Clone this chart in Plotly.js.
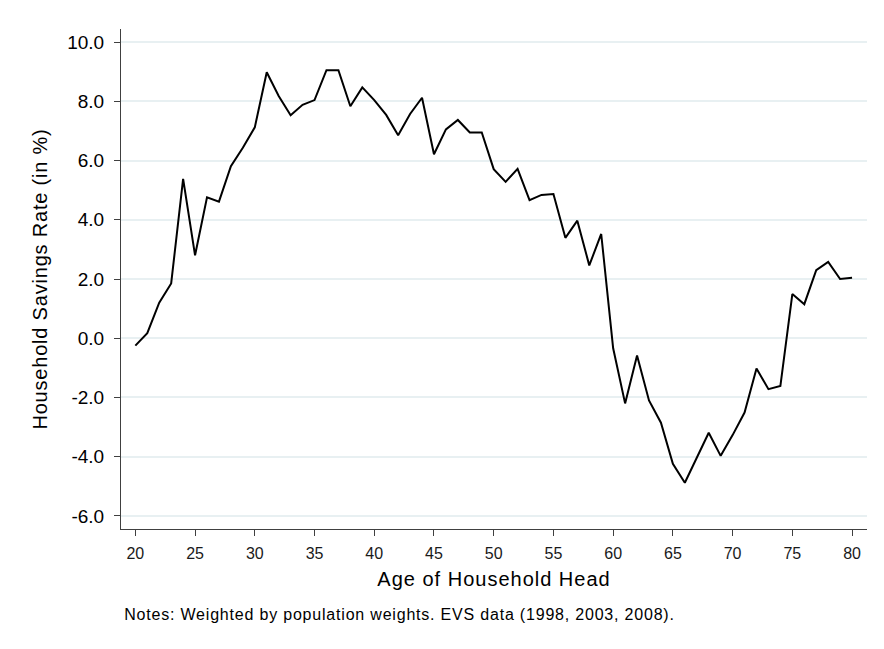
<!DOCTYPE html>
<html>
<head>
<meta charset="utf-8">
<script src="https://cdn.plot.ly/plotly-3.0.1.min.js"></script>
<style>
html,body{margin:0;padding:0;background:#fff;}
#chart{width:884px;height:649px;}
#chart .xtitle{letter-spacing:1px;}
#chart .ytitle{letter-spacing:0.8px;}
#chart .annotation-text{letter-spacing:0.8px;}
</style>
</head>
<body>
<div id="chart"></div>
<script>
const ages = [20,21,22,23,24,25,26,27,28,29,30,31,32,33,34,35,36,37,38,39,40,41,42,43,44,45,46,47,48,49,50,51,52,53,54,55,56,57,58,59,60,61,62,63,64,65,66,67,68,69,70,71,72,73,74,75,76,77,78,79,80];
const savingsRate = [-0.25,0.17,1.2,1.85,5.38,2.8,4.76,4.61,5.81,6.43,7.12,8.98,8.18,7.53,7.88,8.04,9.05,9.05,7.83,8.47,8.04,7.54,6.85,7.57,8.12,6.21,7.05,7.37,6.95,6.95,5.71,5.28,5.72,4.66,4.84,4.87,3.39,3.97,2.46,3.52,-0.34,-2.2,-0.58,-2.1,-2.85,-4.24,-4.88,-4.02,-3.19,-3.97,-3.27,-2.51,-1.02,-1.72,-1.61,1.49,1.15,2.3,2.58,2.0,2.04];
const yTicks = [-6,-4,-2,0,2,4,6,8,10];
const xTicks = [20,25,30,35,40,45,50,55,60,65,70,75,80];
const xTitle = "Age of Household Head";
const yTitle = "Household Savings Rate (in %)";
const note = "Notes: Weighted by population weights. EVS data (1998, 2003, 2008).";

const trace = {
  x: ages, y: savingsRate, type: 'scatter', mode: 'lines',
  line: {color: '#000000', width: 2}, hoverinfo: 'skip'
};
const layout = {
  width: 884, height: 649,
  paper_bgcolor: '#ffffff', plot_bgcolor: '#ffffff',
  margin: {l: 121, r: 17, t: 29, b: 120},
  showlegend: false,
  font: {family: 'Liberation Sans, Arial, sans-serif', color: '#000'},
  xaxis: {
    range: [18.8, 81.25], tickvals: xTicks, ticktext: xTicks.map(String),
    showgrid: false, zeroline: false, showline: true, linecolor: '#404040', linewidth: 1,
    ticks: 'outside', ticklen: 6, tickcolor: '#404040', tickwidth: 1, ticklabelstandoff: 4,
    tickfont: {family: 'Liberation Sans, Arial', size: 16, color: '#1a1a1a'},
    title: {text: xTitle, font: {size: 20, color: '#000', family: 'Liberation Sans, Arial'}, standoff: 10}
  },
  yaxis: {
    range: [-6.44, 10.44], tickvals: yTicks, ticktext: yTicks.map(v => v.toFixed(1)),
    showgrid: true, gridcolor: '#e8f0f2', gridwidth: 2, zeroline: false,
    showline: true, linecolor: '#404040', linewidth: 1,
    ticks: 'outside', ticklen: 6, tickcolor: '#404040', tickwidth: 1, ticklabelstandoff: 6,
    tickfont: {size: 19, color: '#000', family: 'Liberation Sans, Arial'},
    title: {text: yTitle, font: {size: 20, color: '#000', family: 'Liberation Sans, Arial'}, standoff: 14}
  },
  annotations: [{
    text: note, xref: 'paper', yref: 'paper', x: 0.0375, y: -0.17,
    xanchor: 'left', yanchor: 'middle', showarrow: false,
    font: {size: 16, color: '#000', family: 'Liberation Sans, Arial'}
  }]
};
Plotly.newPlot('chart', [trace], layout, {displayModeBar: false, staticPlot: true});
</script>
</body>
</html>
